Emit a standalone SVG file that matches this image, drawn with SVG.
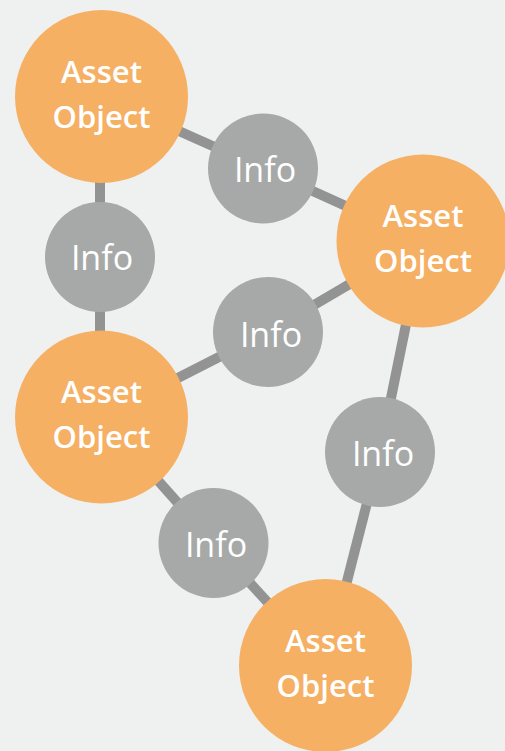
<svg xmlns="http://www.w3.org/2000/svg" width="505" height="751" viewBox="0 0 505 751">
<style>
.bg{fill:#eff0f0}
.edge{stroke:#939393;stroke-width:10;fill:none}
.asset circle{fill:#f5b064}
.info circle{fill:#a6a9a8}
.asset text{fill:#ffffff;font-family:"Open Sans","Noto Sans",sans-serif;font-weight:600;font-size:31px;text-anchor:middle}
.info text{fill:#ffffff;font-family:"Open Sans","Noto Sans",sans-serif;font-size:34px;text-anchor:middle}
</style>
<rect class="bg" x="0" y="0" width="505" height="751"/>
<g id="connectors">
<line class="edge" x1="101.5" y1="96.5" x2="263" y2="168.5"/>
<line class="edge" x1="263" y1="168.5" x2="423" y2="241"/>
<line class="edge" x1="100" y1="96.5" x2="100" y2="417"/>
<line class="edge" x1="101.5" y1="417" x2="268" y2="332"/>
<line class="edge" x1="268" y1="332" x2="423" y2="241"/>
<line class="edge" x1="423" y1="241" x2="380" y2="452"/>
<line class="edge" x1="380" y1="452" x2="325.5" y2="665.5"/>
<line class="edge" x1="101.5" y1="417" x2="213.5" y2="543"/>
<line class="edge" x1="213.5" y1="543" x2="325.5" y2="665.5"/>
</g>
<g id="asset1" class="asset"><circle cx="101.5" cy="96.5" r="86.5"/><text x="101.5" y="83">Asset</text><text x="101.5" y="128">Object</text></g>
<g id="asset2" class="asset"><circle cx="423" cy="241" r="86.5"/><text x="423" y="227">Asset</text><text x="423" y="272">Object</text></g>
<g id="asset3" class="asset"><circle cx="101.5" cy="417" r="86.5"/><text x="101.5" y="403">Asset</text><text x="101.5" y="448">Object</text></g>
<g id="asset4" class="asset"><circle cx="325.5" cy="665.5" r="86.5"/><text x="325.5" y="652">Asset</text><text x="325.5" y="697">Object</text></g>
<g id="info1" class="info"><circle cx="263" cy="168.5" r="55"/><text x="265" y="182">Info</text></g>
<g id="info2" class="info"><circle cx="100" cy="257" r="55"/><text x="102" y="270">Info</text></g>
<g id="info3" class="info"><circle cx="268" cy="332" r="55"/><text x="271" y="347">Info</text></g>
<g id="info4" class="info"><circle cx="380" cy="452" r="55"/><text x="383" y="466">Info</text></g>
<g id="info5" class="info"><circle cx="213.5" cy="543" r="55"/><text x="216" y="557">Info</text></g>
</svg>
